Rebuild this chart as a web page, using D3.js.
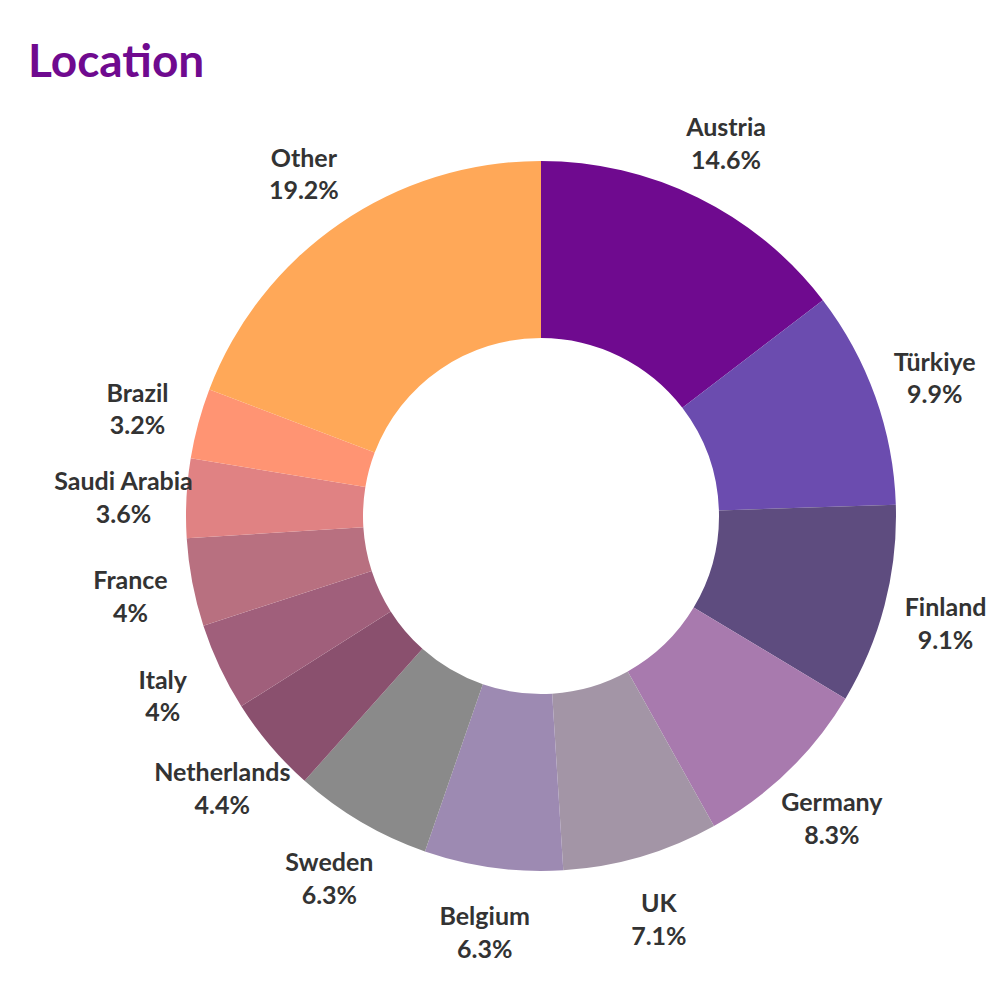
<!DOCTYPE html>
<html><head><meta charset="utf-8">
<script src="https://cdn.jsdelivr.net/npm/d3@7"></script>
<style>body{margin:0;background:#fff}</style></head>
<body><svg id="c" width="1000" height="1000"></svg>
<script>
const categories=["Austria","Türkiye","Finland","Germany","UK","Belgium","Sweden","Netherlands","Italy","France","Saudi Arabia","Brazil","Other"];
const values=[14.6,9.9,9.1,8.3,7.1,6.3,6.3,4.4,4,4,3.6,3.2,19.2];
const labels=["14.6%","9.9%","9.1%","8.3%","7.1%","6.3%","6.3%","4.4%","4%","4%","3.6%","3.2%","19.2%"];
const colors=["#6f0a8f","#6b4caf","#5e4c7f","#a87aae","#a395a6","#9d8ab2","#8a8a8a","#8a506e","#a05f7b","#b87080","#e08283","#ff9473","#ffa858"];
const svg=d3.select("#c");
svg.append("text").attr("x",28).attr("y",77).attr("fill","#6f0a8f").attr("font-family","Lato").attr("font-weight","bold").attr("font-size",46).text("Location");
const cx=541,cy=516,R=355,r=178;
const pie=d3.pie().sort(null)(values);
const arc=d3.arc().innerRadius(r).outerRadius(R);
const g=svg.append("g").attr("transform",`translate(${cx},${cy})`);
g.selectAll("path").data(pie).join("path").attr("d",arc).attr("fill",(d,i)=>colors[i]);
const la=d3.arc().innerRadius(418).outerRadius(418);
pie.forEach((d,i)=>{
  const [x,y]=la.centroid(d);
  const t=g.append("text").attr("x",x).attr("y",y).attr("text-anchor","middle").attr("font-family","Lato").attr("font-weight","bold").attr("font-size",25).attr("fill","#333");
  t.append("tspan").attr("x",x).attr("dy","-0.2em").text(categories[i]);
  t.append("tspan").attr("x",x).attr("dy","1.3em").text(labels[i]);
});
</script></body></html>
